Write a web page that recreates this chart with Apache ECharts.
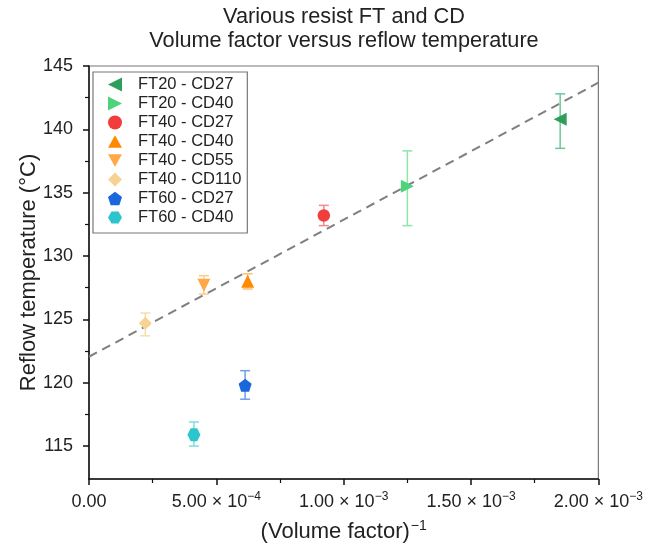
<!DOCTYPE html>
<html>
<head>
<meta charset="utf-8">
<script src="https://cdn.jsdelivr.net/npm/echarts@6/dist/echarts.min.js"></script>
<style>html,body{margin:0;padding:0;background:#fff}#c{width:646px;height:548px}</style>
</head>
<body>
<div id="c"></div>
<script>
const categories = ['FT20 - CD27','FT20 - CD40','FT40 - CD27','FT40 - CD40','FT40 - CD55','FT40 - CD110','FT60 - CD27','FT60 - CD40'];
const xValues = [1.85e-3, 1.25e-3, 0.922e-3, 0.623e-3, 0.451e-3, 0.221e-3, 0.613e-3, 0.412e-3];
const yValues = [140.8, 135.5, 133.2, 128.0, 127.7, 124.7, 119.8, 115.9];
const yLow = [138.5, 132.4, 132.4, 127.4, 127.0, 123.7, 118.7, 115.0];
const yHigh = [142.8, 138.3, 134.0, 128.6, 128.45, 125.5, 120.95, 116.9];
const fitLine = [[0, 122.05], [0.002, 143.68]];
const yMajorTicks = [115, 120, 125, 130, 135, 140, 145];
const yMinorTicks = [117.5, 122.5, 127.5, 132.5, 137.5, 142.5];
const xTickLabels = {0: '0.00', 1: ['5.00 × 10', '−4'], 2: ['1.00 × 10', '−3'], 3: ['1.50 × 10', '−3'], 4: ['2.00 × 10', '−3']};

const markerColors = ['#2e9e5b','#4fd27c','#f23d3d','#ff8a00','#ffa845','#f8d292','#1a66dd','#2cc5cc'];
const errColors = ['#6cc995','#8ee6a8','#f28b8b','#ffbf7a','#ffc98a','#f7dcae','#6f9fe8','#7fdde2'];
const symbols = [
  'path://M0,5L10,0L10,10Z',
  'path://M10,5L0,0L0,10Z',
  'circle',
  'path://M5,0L10,9L0,9Z',
  'path://M0,0L10,0L5,9Z',
  'path://M5,0L10,5L5,10L0,5Z',
  'path://M5,0L9.76,3.45L7.94,9.05L2.06,9.05L0.24,3.45Z',
  'path://M2.5,0.7L7.5,0.7L10,5L7.5,9.3L2.5,9.3L0,5Z'
];
const sizes = [13, 13, 12.5, 13, 13, 13, 13, 13];

const FONT = '"Liberation Sans", Arial, sans-serif';

const series = [{
  type: 'line', data: fitLine, showSymbol: false, symbol: 'none', silent: true, z: 1,
  lineStyle: {color: '#7f7f7f', width: 2, type: [9, 6]}, clip: true
}];
categories.forEach((name, i) => {
  series.push({
    name: name + ' err', type: 'custom', z: 2, silent: true,
    data: [[xValues[i], yLow[i], yHigh[i]]],
    renderItem: function (params, api) {
      const x = api.value(0);
      const p1 = api.coord([x, api.value(2)]);
      const p2 = api.coord([x, api.value(1)]);
      const w = 5;
      const st = {stroke: errColors[i], lineWidth: 1.5};
      return {type: 'group', children: [
        {type: 'line', shape: {x1: p1[0], y1: p1[1], x2: p2[0], y2: p2[1]}, style: st},
        {type: 'line', shape: {x1: p1[0]-w, y1: p1[1], x2: p1[0]+w, y2: p1[1]}, style: st},
        {type: 'line', shape: {x1: p2[0]-w, y1: p2[1], x2: p2[0]+w, y2: p2[1]}, style: st}
      ]};
    }
  });
  series.push({
    name: name, type: 'scatter', z: 3,
    data: [[xValues[i], yValues[i]]],
    symbol: symbols[i], symbolSize: sizes[i],
    itemStyle: {color: markerColors[i], opacity: 1}
  });
});

const chart = echarts.init(document.getElementById('c'), null, {renderer: 'canvas'});
chart.setOption({
  animation: false,
  backgroundColor: '#fff',
  textStyle: {fontFamily: FONT},
  title: {
    text: 'Various resist FT and CD\nVolume factor versus reflow temperature',
    left: 339, top: 0, textAlign: 'center',
    textStyle: {fontFamily: FONT, fontSize: 21.7, fontWeight: 'normal', color: '#222', lineHeight: 24}
  },
  legend: {
    orient: 'vertical', left: 93, top: 72,
    data: categories.map((n, i) => ({name: n, icon: symbols[i]})),
    itemWidth: 14, itemHeight: 14, itemGap: 2,
    padding: [4, 6, 7, 15],
    borderColor: '#777', borderWidth: 1.2, borderRadius: 0,
    textStyle: {fontFamily: FONT, fontSize: 16.5, color: '#222', lineHeight: 16, padding: [0, 0, 0, 11]},
    selectedMode: false
  },
  grid: {left: 89, right: 43, top: 66, bottom: 69, show: true, borderColor: '#777', borderWidth: 1.2, containLabel: false},
  xAxis: {
    type: 'value', min: 0, max: 0.002, interval: 0.0005,
    name: '{a|(Volume factor)}{s|−1}', nameLocation: 'middle', nameGap: 40, nameMoveOverlap: false,
    nameTextStyle: {rich: {
      a: {fontFamily: FONT, fontSize: 22, color: '#222', lineHeight: 26},
      s: {fontFamily: FONT, fontSize: 14, color: '#222', lineHeight: 26, verticalAlign: 'top', padding: [0, 0, 0, 1]}
    }},
    axisLine: {show: true, lineStyle: {color: '#111', width: 1.5}},
    axisTick: {show: true, inside: false, length: 6, lineStyle: {color: '#111', width: 1.5}},
    minorTick: {show: true, splitNumber: 2, length: 4, lineStyle: {color: '#111', width: 1.2}},
    splitLine: {show: false},
    axisLabel: {
      margin: 12, color: '#222', fontFamily: FONT, fontSize: 18,
      formatter: function (v) {
        const k = Math.round(v / 0.0005);
        const t = xTickLabels[k];
        if (t === undefined) return '';
        if (typeof t === 'string') return '{a|' + t + '}';
        return '{a|' + t[0] + '}{s|' + t[1] + '}';
      },
      rich: {
        a: {fontFamily: FONT, fontSize: 18, color: '#222', lineHeight: 22},
        s: {fontFamily: FONT, fontSize: 12, color: '#222', lineHeight: 22, verticalAlign: 'top'}
      }
    }
  },
  yAxis: [{
    type: 'value', min: 112.4, max: 145,
    name: 'Reflow temperature (°C)', nameLocation: 'middle', nameGap: 49, nameMoveOverlap: false,
    nameTextStyle: {fontFamily: FONT, fontSize: 22, color: '#222'},
    axisLine: {show: true, lineStyle: {color: '#111', width: 1.5}},
    axisTick: {show: true, inside: false, length: 6, customValues: yMajorTicks, lineStyle: {color: '#111', width: 1.5}},
    splitLine: {show: false},
    axisLabel: {margin: 16, color: '#222', fontFamily: FONT, fontSize: 18, customValues: yMajorTicks}
  }, {
    type: 'value', min: 112.4, max: 145, position: 'left', offset: 0,
    axisLine: {show: false},
    axisTick: {show: true, inside: false, length: 4, customValues: yMinorTicks, lineStyle: {color: '#111', width: 1.2}},
    axisLabel: {show: false},
    splitLine: {show: false}
  }],
  series: series
});
</script>
</body>
</html>
